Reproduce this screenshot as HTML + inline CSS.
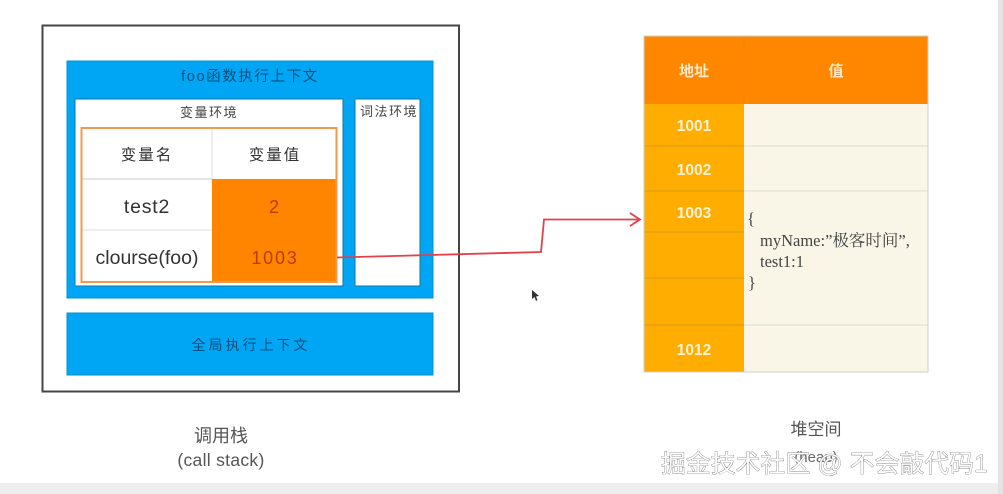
<!DOCTYPE html>
<html>
<head>
<meta charset="utf-8">
<style>
html,body{margin:0;padding:0;background:#fff;width:1003px;height:494px;overflow:hidden}
svg{display:block;position:absolute;left:0;top:0}
.h{font-family:"Liberation Sans","WenQuanYi Zen Hei","Noto Sans CJK SC",sans-serif}
.s{font-family:"Liberation Serif","Noto Serif CJK SC",serif}
</style>
</head>
<body>
<svg width="1003" height="494" viewBox="0 0 1003 494" xmlns="http://www.w3.org/2000/svg">
<defs><filter id="b" x="-5%" y="-5%" width="110%" height="110%"><feGaussianBlur stdDeviation="0.35"/></filter>
<filter id="t" x="-5%" y="-5%" width="110%" height="110%"><feGaussianBlur stdDeviation="0.25"/></filter></defs>
<rect width="1003" height="494" fill="#fff"/>
<rect x="0" y="483" width="1003" height="11" fill="#eeeeee"/>
<rect x="998" y="0" width="5" height="494" fill="#e4e4e4"/>
<g filter="url(#b)">
<rect x="42.5" y="25.5" width="416.5" height="366" fill="#fff" stroke="#444" stroke-width="2"/>
<rect x="67" y="61" width="366" height="237" fill="#01a6f3" stroke="#0590cf"/>
<rect x="75" y="99" width="268" height="187" fill="#fff" stroke="#0a76a8"/>
<rect x="355" y="99" width="65" height="187" fill="#fff" stroke="#0a76a8"/>
<rect x="67" y="313" width="366" height="62" fill="#01a6f3" stroke="#0590cf"/>
<rect x="212" y="179" width="125" height="103" fill="#ff8500"/>
<line x1="82" y1="179" x2="212" y2="179" stroke="#c9c9c9"/>
<line x1="82" y1="230" x2="212" y2="230" stroke="#dddddd"/>
<line x1="212" y1="129" x2="212" y2="179" stroke="#dddddd"/>
<rect x="81.5" y="128" width="255" height="154" fill="none" stroke="#f09a4c" stroke-width="2"/>

<rect x="644" y="36" width="284" height="68" fill="#ff8705"/>
<rect x="644" y="104" width="100" height="268" fill="#ffad00"/>
<rect x="744" y="104" width="184" height="268" fill="#f9f5e7"/>
<line x1="744" y1="36" x2="744" y2="104" stroke="#f48000"/>
<g stroke="#d79a20">
<line x1="644" y1="146" x2="744" y2="146"/>
<line x1="644" y1="191" x2="744" y2="191"/>
<line x1="644" y1="232" x2="744" y2="232"/>
<line x1="644" y1="278" x2="744" y2="278"/>
<line x1="644" y1="325" x2="744" y2="325"/>
</g>
<g stroke="#dedbd0">
<line x1="744" y1="146" x2="928" y2="146"/>
<line x1="744" y1="191" x2="928" y2="191"/>
<line x1="744" y1="325" x2="928" y2="325"/>
</g>
<rect x="644" y="36" width="284" height="336" fill="none" stroke="#cfcfc8"/>

<path d="M337 257.5 L541 252 L544 219.5 L640 219.5 M630 213 L640 219.5 L630 226" fill="none" stroke="#e2404c" stroke-width="1.8"/>
<path d="M532 290 L532 299 L534.5 297 L536 301 L537.5 300 L536 296.5 L539 296 Z" fill="#333"/>
</g>

<g class="h" text-anchor="middle" filter="url(#t)">
<text x="250" y="81" font-size="14.5" fill="#06507f" letter-spacing="1.6">foo函数执行上下文</text>
<text x="209" y="117" font-size="13" fill="#444" letter-spacing="1.5">变量环境</text>
<text x="389" y="116" font-size="13" fill="#444" letter-spacing="1.5">词法环境</text>
<text x="147" y="160" font-size="15.5" fill="#333" letter-spacing="2">变量名</text>
<text x="275" y="160" font-size="15.5" fill="#333" letter-spacing="2">变量值</text>
<text x="147" y="213" font-size="19.5" fill="#333" letter-spacing="0.8">test2</text>
<text x="274" y="213" font-size="18" fill="#b83c00">2</text>
<text x="147" y="264" font-size="19.5" fill="#333">clourse(foo)</text>
<text x="275" y="264" font-size="18" fill="#b83c00" letter-spacing="1.8">1003</text>
<text x="251" y="350" font-size="14" fill="#06507f" letter-spacing="3">全局执行上下文</text>
<text x="221" y="442" font-size="18" fill="#555">调用栈</text>
<text x="221" y="466" font-size="17.5" fill="#555" letter-spacing="0.3">(call stack)</text>

<text x="694" y="76" font-size="15" font-weight="bold" fill="#ffe9c9">地址</text>
<text x="836" y="76" font-size="15" font-weight="bold" fill="#ffe9c9">值</text>
<g font-size="15.5" font-weight="bold" fill="#fff2d8">
<text x="694" y="131">1001</text>
<text x="694" y="175">1002</text>
<text x="694" y="218">1003</text>
<text x="694" y="355">1012</text>
</g>
<text x="816" y="435" font-size="17" fill="#555">堆空间</text>
<text x="816" y="462" font-size="15" fill="#666">(heap)</text>
</g>
<g class="s" font-size="16.5" fill="#444" filter="url(#t)">
<text x="747" y="224">{</text>
<text x="760" y="246">myName:”极客时间”,</text>
<text x="760" y="267">test1:1</text>
<text x="748" y="288">}</text>
</g>
<text class="h" x="661" y="472" font-size="24.7" fill="#fff" stroke="#555" stroke-width="0.6" paint-order="stroke" letter-spacing="0.2">掘金技术社区 @ 不会敲代码1</text>
</svg>
</body>
</html>
